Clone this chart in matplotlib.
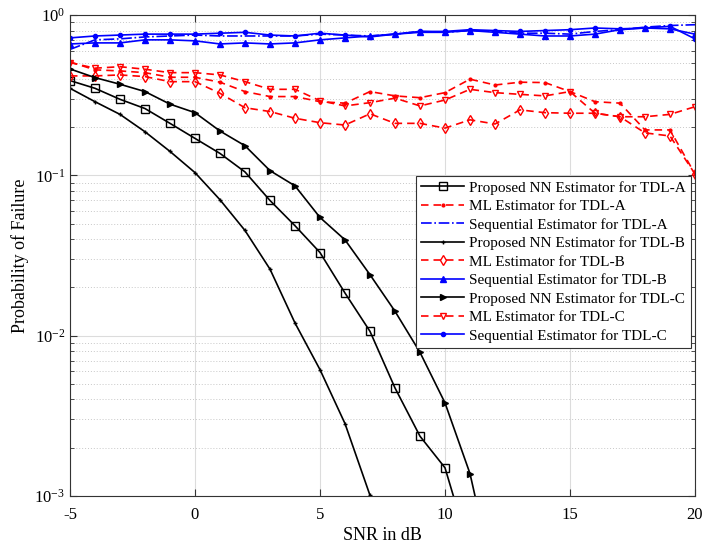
import numpy as np
import matplotlib
matplotlib.use("Agg")
import matplotlib.pyplot as plt
from matplotlib.ticker import LogLocator, NullFormatter

plt.rcParams['font.family'] = ['Liberation Serif', 'DejaVu Serif']
plt.rcParams['mathtext.fontset'] = 'stix'
plt.rcParams['axes.unicode_minus'] = False

snr = list(range(-5, 21))

nnA_snr = list(range(-5, 12))
nnA = [0.39, 0.349, 0.298, 0.261, 0.211, 0.170, 0.137, 0.105, 0.0697, 0.0485,
       0.033, 0.01845, 0.01064, 0.00472, 0.00236, 0.0015, 0.00045]
nnB_snr = list(range(-5, 8))
nnB = [0.349, 0.288, 0.240, 0.187, 0.141, 0.104, 0.0704, 0.0453, 0.026, 0.012,
       0.00614, 0.00283, 0.00101]
nnC_snr = list(range(-5, 13))
nnC = [0.461, 0.407, 0.370, 0.333, 0.278, 0.246, 0.189, 0.153, 0.107, 0.086,
       0.0546, 0.0396, 0.024, 0.0142, 0.00787, 0.00381, 0.00138, 0.00028]

mlA = [0.51, 0.455, 0.448, 0.437, 0.409, 0.409, 0.381, 0.333, 0.310, 0.310,
       0.288, 0.282, 0.333, 0.313, 0.305, 0.328, 0.398, 0.366, 0.381, 0.379,
       0.333, 0.288, 0.282, 0.192, 0.192, 0.102]
mlB = [0.417, 0.417, 0.423, 0.413, 0.384, 0.384, 0.325, 0.264, 0.250, 0.227,
       0.213, 0.206, 0.242, 0.211, 0.211, 0.197, 0.222, 0.209, 0.256, 0.246,
       0.244, 0.244, 0.232, 0.184, 0.176, 0.102]
mlC = [0.505, 0.466, 0.476, 0.459, 0.437, 0.437, 0.423, 0.384, 0.344, 0.344,
       0.292, 0.271, 0.284, 0.303, 0.271, 0.295, 0.344, 0.328, 0.320, 0.313,
       0.333, 0.244, 0.232, 0.232, 0.240, 0.268]

seqA = [0.61, 0.70, 0.71, 0.73, 0.74, 0.75, 0.74, 0.74, 0.74, 0.74, 0.76, 0.75,
        0.74, 0.76, 0.79, 0.78, 0.80, 0.79, 0.77, 0.77, 0.76, 0.79, 0.81, 0.84,
        0.86, 0.87]
seqB = [0.66, 0.67, 0.67, 0.70, 0.70, 0.69, 0.66, 0.67, 0.66, 0.67, 0.70, 0.72,
        0.74, 0.76, 0.78, 0.78, 0.80, 0.78, 0.76, 0.74, 0.74, 0.76, 0.81, 0.83,
        0.82, 0.76]
seqC = [0.72, 0.74, 0.75, 0.76, 0.76, 0.76, 0.77, 0.78, 0.75, 0.74, 0.77, 0.75,
        0.73, 0.76, 0.79, 0.79, 0.81, 0.80, 0.79, 0.80, 0.81, 0.83, 0.82, 0.83,
        0.85, 0.71]

labels = ["Proposed NN Estimator for TDL-A", "ML Estimator for TDL-A",
          "Sequential Estimator for TDL-A", "Proposed NN Estimator for TDL-B",
          "ML Estimator for TDL-B", "Sequential Estimator for TDL-B",
          "Proposed NN Estimator for TDL-C", "ML Estimator for TDL-C",
          "Sequential Estimator for TDL-C"]

fig = plt.figure(figsize=(7.02, 5.48), dpi=100)
ax = fig.add_axes([0.0997, 0.0949, 0.8903, 0.8777])

lw = 1.2
red = '#ff0000'
blue = '#0000ff'
dash = (0, (4.5, 3))
ax.plot(nnA_snr, nnA, color='k', lw=lw, marker='s', ms=6, mfc='none', mew=1.0, label=labels[0])
ax.plot(snr, mlA, color=red, lw=lw, ls=dash, marker='.', ms=4, label=labels[1])
ax.plot(snr, seqA, color=blue, lw=lw, ls='-.', label=labels[2])
ax.plot(nnB_snr, nnB, color='k', lw=lw, marker='+', ms=3, mew=1.0, label=labels[3])
ax.plot(snr, mlB, color=red, lw=lw, ls=dash, marker='d', ms=5, mfc='none', mew=1.0, label=labels[4])
ax.plot(snr, seqB, color=blue, lw=lw, marker='^', ms=5, label=labels[5])
ax.plot(nnC_snr, nnC, color='k', lw=lw, marker='>', ms=5, label=labels[6])
ax.plot(snr, mlC, color=red, lw=lw, ls=dash, marker='v', ms=5, mfc='none', mew=1.0, label=labels[7])
ax.plot(snr, seqC, color=blue, lw=lw, marker='.', ms=6, label=labels[8])

ax.set_yscale('log')
ax.set_xlim(-5, 20)
ax.set_ylim(1e-3, 1)
ax.set_xticks([-5, 0, 5, 10, 15, 20])
ax.yaxis.set_major_locator(LogLocator(base=10, numticks=10))
ax.yaxis.set_minor_locator(LogLocator(base=10, subs=np.arange(2, 10), numticks=20))
ax.yaxis.set_minor_formatter(NullFormatter())

ax.grid(True, which='major', color='#dcdcdc', lw=0.8, ls='-')
ax.grid(True, which='minor', axis='y', color='#c8c8c8', lw=0.7, ls=(0, (1, 2)))
ax.set_axisbelow(True)

ax.tick_params(which='both', direction='in', top=True, right=True, labelsize=12, color='#333333')
ax.tick_params(which='major', length=5)
ax.tick_params(axis='x', which='major', pad=8)
ax.tick_params(which='minor', length=3)
for s in ax.spines.values():
    s.set_color('#333333')
    s.set_linewidth(0.8)

ax.set_xlabel('SNR in dB', fontsize=13, labelpad=3)
ax.set_ylabel('Probability of Failure', fontsize=13)

leg = ax.legend(loc='upper right', bbox_to_anchor=(0.993, 0.666), borderaxespad=0,
                fontsize=11, labelspacing=0.31, handlelength=2.8, handletextpad=0.3,
                borderpad=0.35, fancybox=False, framealpha=1)
leg.get_frame().set_edgecolor('#333333')
leg.get_frame().set_linewidth(0.8)

fig.savefig('out.png', dpi=100)
